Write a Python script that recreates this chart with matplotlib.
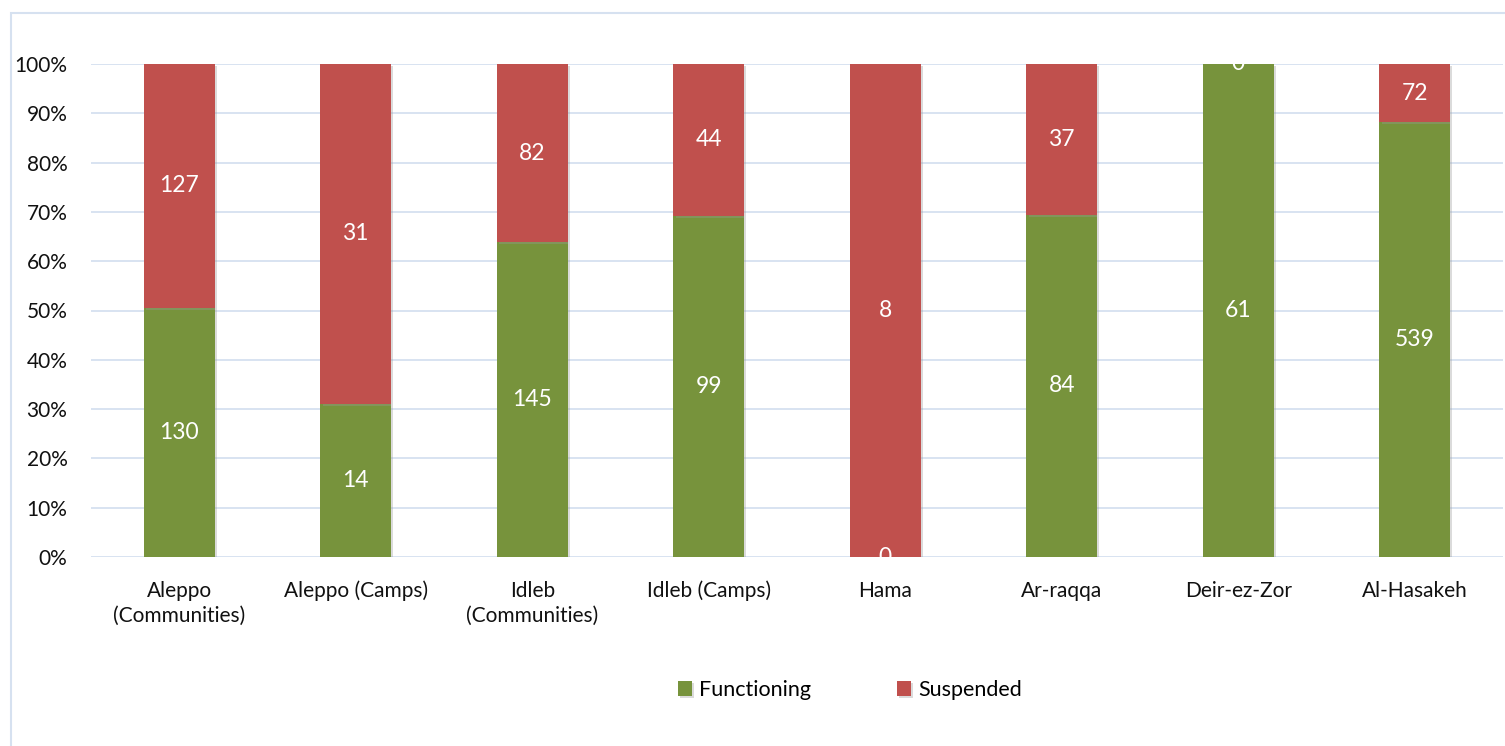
import numpy as np
import matplotlib
matplotlib.use("Agg")
import matplotlib.pyplot as plt
from matplotlib.patches import Rectangle
import matplotlib.patheffects as pe

# data
categories = ["Aleppo\n(Communities)", "Aleppo (Camps)", "Idleb\n(Communities)", "Idleb (Camps)",
              "Hama", "Ar-raqqa", "Deir-ez-Zor", "Al-Hasakeh"]
functioning = [130, 14, 145, 99, 0, 84, 61, 539]
suspended = [127, 31, 82, 44, 8, 37, 0, 72]
yticks = [0, 10, 20, 30, 40, 50, 60, 70, 80, 90, 100]

green = "#77933C"
red = "#C0504D"
grid_col = "#D6E1F0"

plt.rcParams['font.family'] = ['Lato', 'DejaVu Sans']

fig = plt.figure(figsize=(15.05, 7.46), dpi=100)
ax = fig.add_axes([91 / 1505, 1 - 557 / 746, (1503 - 91) / 1505, (557 - 64) / 746])

# chart frame
fig.patches.append(Rectangle((11 / 1505, -0.01), 1.2, 1 - 13 / 746 + 0.01, transform=fig.transFigure,
                             fill=False, edgecolor=grid_col, linewidth=1.5))

f = np.array(functioning, dtype=float)
s = np.array(suspended, dtype=float)
tot = f + s
fp = f / tot * 100
sp = s / tot * 100
x = np.arange(len(categories))

shadow = [pe.SimplePatchShadow(offset=(1.5, -1.5), shadow_rgbFace="#999999", alpha=0.35), pe.Normal()]
b1 = ax.bar(x, fp, width=0.4, color=green, label="Functioning", zorder=3, path_effects=shadow)
b2 = ax.bar(x, sp, width=0.4, bottom=fp, color=red, label="Suspended", zorder=3, path_effects=shadow)

ax.bar_label(b1, labels=[str(v) for v in functioning], label_type="center", color="white", fontsize=16.5, zorder=4)
ax.bar_label(b2, labels=[str(v) for v in suspended], label_type="center", color="white", fontsize=16.5, zorder=4)

ax.set_xlim(-0.5, len(categories) - 0.5)
ax.set_ylim(0, 100)
ax.set_yticks(yticks)
ax.set_yticklabels([f"{t}%" for t in yticks], fontsize=15)
ax.set_xticks(x)
ax.set_xticklabels(categories, fontsize=15, linespacing=1.3)
ax.tick_params(axis="both", length=0, colors="#111111")
ax.tick_params(axis="x", pad=17)
ax.tick_params(axis="y", pad=17)
ax.yaxis.grid(True, color=grid_col, linewidth=1.3, zorder=0)
ax.set_axisbelow(True)
for sp_ in ax.spines.values():
    sp_.set_visible(False)
ax.margins(y=0)

fig.legend(handles=[b1, b2], loc="center", bbox_to_anchor=(850 / 1505, 1 - 690 / 746), ncol=2,
           frameon=False, fontsize=15.5, handlelength=0.65, handleheight=0.65, handletextpad=0.35,
           columnspacing=4.0)

fig.savefig("out.png", dpi=100)
